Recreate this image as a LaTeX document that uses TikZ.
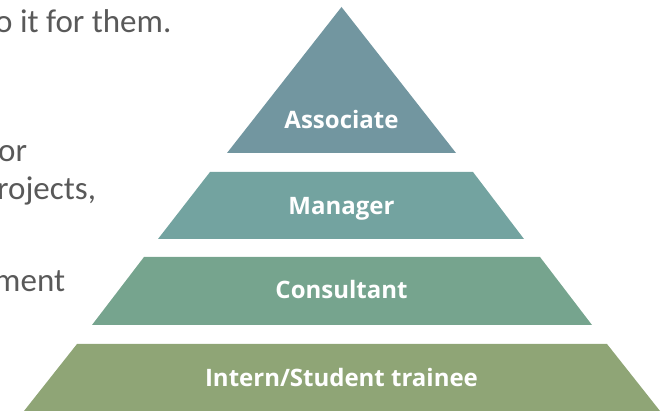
\documentclass[tikz,border=0pt]{standalone}
\usepackage{fontspec}
\setmainfont{Carlito}
\newfontfamily\tierfont{Open Sans}
\definecolor{tierassoc}{RGB}{114,150,160}
\definecolor{tiermanager}{RGB}{115,163,160}
\definecolor{tierconsult}{RGB}{118,164,142}
\definecolor{tierintern}{RGB}{143,165,118}
\definecolor{bodytext}{RGB}{89,89,89}
\tikzset{
  tier/.style={draw=none},
  tierlabel/.style={anchor=base, text=white, font=\tierfont\bfseries\fontsize{24}{27}\selectfont},
  bodyline/.style={anchor=base west, inner sep=0pt, text=bodytext, font=\fontsize{33}{39}\selectfont}
}

\begin{document}
\begin{tikzpicture}[x=1pt, y=-1pt]
  \useasboundingbox (0,0) rectangle (662,411);
  \clip (0,0) rectangle (662,411);

  % Cut-off text on the left
  \node (line1) [bodyline] at (-5,33) {o it for them.};
  \node (line2) [bodyline] at (-2,162) {or};
  \node (line3) [bodyline] at (-3,200) {rojects,};
  \node (line4) [bodyline] at (-6,292) {ment};

  % Top tier
  \fill [tier, tierassoc] (341.5,7) -- (456,153) -- (227,153) -- cycle;
  \node (assoc) [tierlabel] at (341.5,129) {Associate};

  % Second tier
  \fill [tier, tiermanager] (210,172) -- (473,172) -- (524,239) -- (158,239) -- cycle;
  \node (manager) [tierlabel] at (341.5,215) {Manager};

  % Third tier
  \fill [tier, tierconsult] (144,257) -- (540,257) -- (592,325) -- (92,325) -- cycle;
  \node (consult) [tierlabel] at (341.5,299) {Consultant};

  % Bottom tier
  \fill [tier, tierintern] (77,344) -- (607,344) -- (661.6,413) -- (22.4,413) -- cycle;
  \node (intern) [tierlabel] at (341.5,387) {Intern/Student trainee};
\end{tikzpicture}
\end{document}
